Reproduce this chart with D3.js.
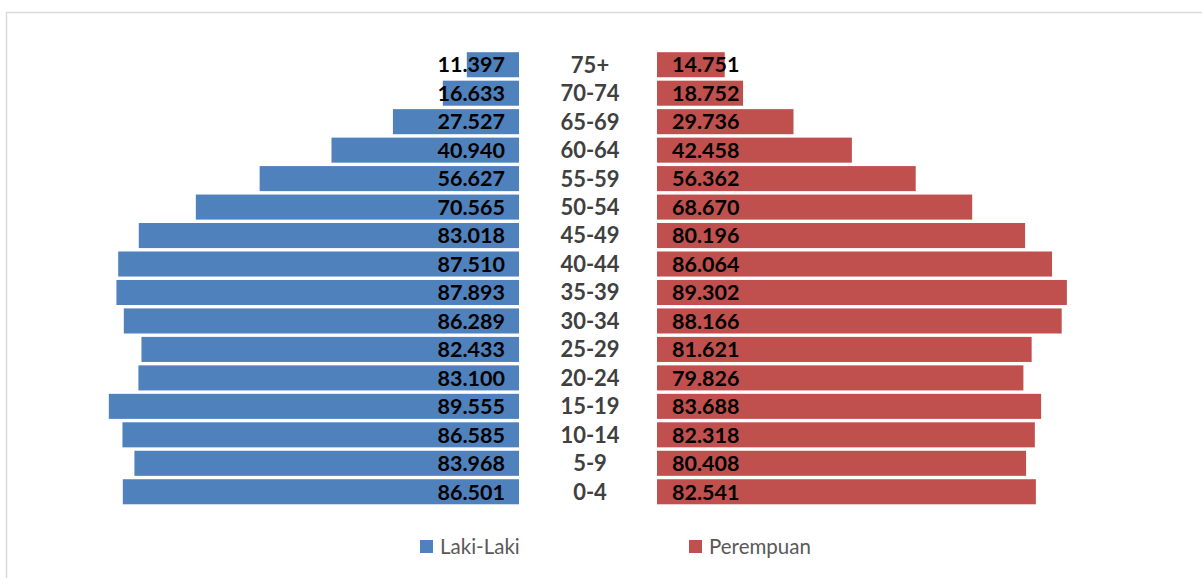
<!DOCTYPE html>
<html>
<head>
<meta charset="utf-8">
<script src="https://cdn.jsdelivr.net/npm/d3@7"></script>
<style>
  body { margin: 0; background: #fff; }
  svg { display: block; }
</style>
</head>
<body>
<svg id="chart"></svg>
<script>
var ageGroups = ['75+', '70-74', '65-69', '60-64', '55-59', '50-54', '45-49', '40-44',
    '35-39', '30-34', '25-29', '20-24', '15-19', '10-14', '5-9', '0-4'];
var lakiLaki = [11.397, 16.633, 27.527, 40.940, 56.627, 70.565, 83.018, 87.510,
    87.893, 86.289, 82.433, 83.100, 89.555, 86.585, 83.968, 86.501];
var perempuan = [14.751, 18.752, 29.736, 42.458, 56.362, 68.670, 80.196, 86.064,
    89.302, 88.166, 81.621, 79.826, 83.688, 82.318, 80.408, 82.541];
var seriesNames = ['Laki-Laki', 'Perempuan'];
var colors = ['#4F81BD', '#C0504D'];

function fmt(v) {
    return v.toFixed(3);
}

function start() {
    var svg = d3.select('#chart')
        .attr('width', 1202)
        .attr('height', 578);

    // chart frame
    svg.append('rect')
        .attr('x', 6.5).attr('y', 12.5)
        .attr('width', 1220).attr('height', 600)
        .attr('fill', '#fff')
        .attr('stroke', '#d9d9d9')
        .attr('stroke-width', 1.5);

    var y = d3.scaleBand()
        .domain(ageGroups)
        .range([50.5, 506])
        .paddingInner(0.12)
        .paddingOuter(0.06);

    var xLeft = d3.scaleLinear().domain([0, 100]).range([519, 61]);
    var xRight = d3.scaleLinear().domain([0, 100]).range([657, 1116]);

    var g = svg.append('g');

    g.selectAll('rect.laki')
        .data(lakiLaki)
        .enter().append('rect')
        .attr('class', 'laki')
        .attr('x', function (d) { return xLeft(d); })
        .attr('y', function (d, i) { return y(ageGroups[i]); })
        .attr('width', function (d) { return xLeft(0) - xLeft(d); })
        .attr('height', y.bandwidth())
        .attr('fill', colors[0]);

    g.selectAll('rect.perempuan')
        .data(perempuan)
        .enter().append('rect')
        .attr('class', 'perempuan')
        .attr('x', xRight(0))
        .attr('y', function (d, i) { return y(ageGroups[i]); })
        .attr('width', function (d) { return xRight(d) - xRight(0); })
        .attr('height', y.bandwidth())
        .attr('fill', colors[1]);

    var labelFont = 'Lato, "Open Sans", sans-serif';

    g.selectAll('text.lval')
        .data(lakiLaki)
        .enter().append('text')
        .attr('x', xLeft(0) - 14)
        .attr('y', function (d, i) { return y(ageGroups[i]) + y.bandwidth() / 2; })
        .attr('dy', '0.36em')
        .attr('text-anchor', 'end')
        .style('font-family', labelFont)
        .style('font-weight', 'bold')
        .style('font-size', '21.5px')
        .style('fill', '#000')
        .text(fmt);

    g.selectAll('text.rval')
        .data(perempuan)
        .enter().append('text')
        .attr('x', xRight(0) + 15)
        .attr('y', function (d, i) { return y(ageGroups[i]) + y.bandwidth() / 2; })
        .attr('dy', '0.36em')
        .attr('text-anchor', 'start')
        .style('font-family', labelFont)
        .style('font-weight', 'bold')
        .style('font-size', '21.5px')
        .style('fill', '#000')
        .text(fmt);

    g.selectAll('text.cat')
        .data(ageGroups)
        .enter().append('text')
        .attr('x', 590)
        .attr('y', function (d) { return y(d) + y.bandwidth() / 2; })
        .attr('dy', '0.36em')
        .attr('text-anchor', 'middle')
        .style('font-family', labelFont)
        .style('font-weight', 'bold')
        .style('font-size', '22px')
        .style('fill', '#404040')
        .text(function (d) { return d; });

    // legend
    var legend = svg.append('g').selectAll('g')
        .data(seriesNames)
        .enter().append('g')
        .attr('transform', function (d, i) {
            return 'translate(' + (i === 0 ? 420 : 689) + ',540)';
        });
    legend.append('rect')
        .attr('width', 13).attr('height', 13)
        .attr('fill', function (d, i) { return colors[i]; });
    legend.append('text')
        .attr('x', 20).attr('y', 6.5)
        .attr('dy', '0.36em')
        .style('font-family', labelFont)
        .style('font-size', '20.5px')
        .style('fill', '#595959')
        .text(function (d) { return d; });
}

start();
</script>
</body>
</html>
